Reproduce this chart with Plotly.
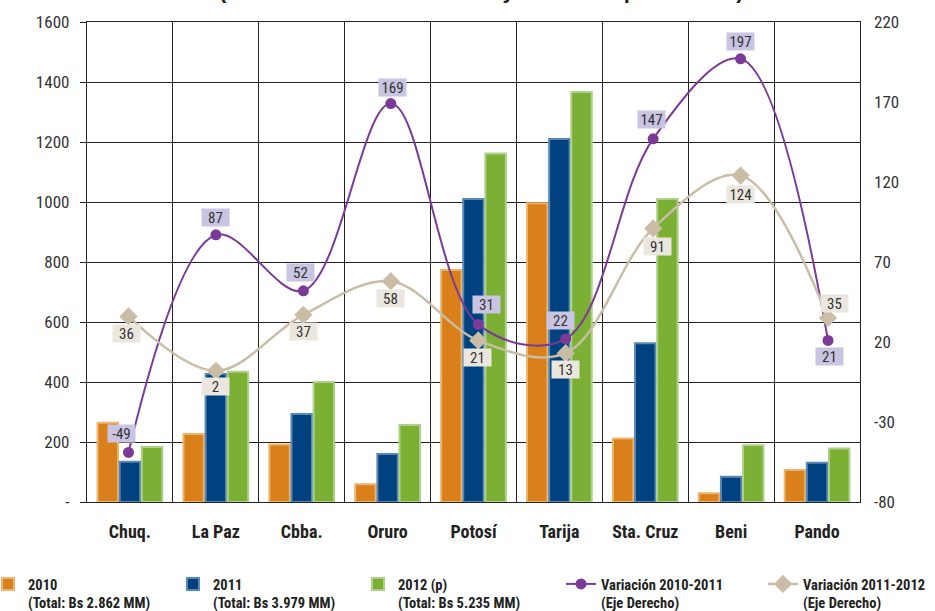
import plotly.graph_objects as go

# ---------------- data ----------------
categories = ["Chuq.", "La Paz", "Cbba.", "Oruro", "Potosí", "Tarija", "Sta. Cruz", "Beni", "Pando"]
val_2010 = [264, 227, 192, 59, 773, 996, 212, 29, 107]
val_2011 = [134, 427, 293, 160, 1010, 1210, 529, 84, 131]
val_2012 = [183, 434, 400, 257, 1162, 1367, 1010, 189, 178]
var_10_11 = [-49, 87, 52, 169, 31, 22, 147, 197, 21]
var_11_12 = [36, 2, 37, 58, 21, 13, 91, 124, 35]

left_tickvals = [0, 200, 400, 600, 800, 1000, 1200, 1400, 1600]
left_ticktext = ["-", "200", "400", "600", "800", "1000", "1200", "1400", "1600"]
right_tickvals = [-80, -30, 20, 70, 120, 170, 220]
right_ticktext = ["-80", "-30", "20", "70", "120", "170", "220"]

names = [
    "2010<br>(Total: Bs 2.862 MM)",
    "2011<br>(Total: Bs 3.979 MM)",
    "2012 (p)<br>(Total: Bs 5.235 MM)",
    "Variación 2010-2011<br>(Eje Derecho)",
    "Variación 2011-2012<br>(Eje Derecho)",
]
title_text = "(En millones de bolivianos y variación porcentual)"

# ---------------- style ----------------
NARROW = "Roboto Condensed, Roboto, Liberation Sans Narrow, sans-serif"
DARK = "#222222"
bar_fill = ["#D9801A", "#00427F", "#7CB035"]
bar_edge = ["#EDB46D", "#5B87B3", "#AED08A"]
purple = "#7B3A97"
tan = "#C9BDA5"
purple_box = "#C8C4E2"
tan_box = "#EBE7DF"

# label offsets (px) relative to markers
off_10_11 = [(-7, 19), (0, 17), (-3, 18), (2, 16), (8, 20), (-5, 18), (-2, 19), (0, 17), (1, -16)]
off_11_12 = [(-2, -17), (0, -16), (0, -17), (0, -17), (-1, -17), (0, -16), (4, -18), (0, -19), (6, 15)]

W, H = 935, 611
ML, MR, MT, MB = 87, 75, 22, 109
plot_w = W - ML - MR
plot_h = H - MT - MB

# line x-scale (secondary horizontal axis): first point at px 128.5, spacing 87.44 px
first_px, step_px = 128.5, 87.44
x2_range = [-(first_px - ML) / step_px, (W - MR - first_px) / step_px]
idx = list(range(len(categories)))

fig = go.Figure()
for i, (vals, nm) in enumerate(zip([val_2010, val_2011, val_2012], names[:3])):
    fig.add_trace(go.Bar(
        x=categories, y=vals, name=nm,
        marker=dict(color=bar_fill[i], line=dict(color=bar_edge[i], width=2)),
        legend="legend" if i == 0 else f"legend{i+1}",
        hoverinfo="x+y",
    ))

fig.add_trace(go.Scatter(
    x=idx, y=var_10_11, name=names[3], xaxis="x2", yaxis="y2",
    mode="lines+markers", line=dict(color=purple, width=2, shape="spline", smoothing=1.0),
    marker=dict(symbol="circle", size=11, color=purple),
    legend="legend4",
))
fig.add_trace(go.Scatter(
    x=idx, y=var_11_12, name=names[4], xaxis="x2", yaxis="y2",
    mode="lines+markers", line=dict(color=tan, width=2.5, shape="spline", smoothing=1.0),
    marker=dict(symbol="diamond", size=14, color=tan),
    legend="legend5",
))

annotations = []
for vals, offs, box in [(var_10_11, off_10_11, purple_box), (var_11_12, off_11_12, tan_box)]:
    for i, v in enumerate(vals):
        dx, dy = offs[i]
        annotations.append(dict(
            x=idx[i], y=v, xref="x2", yref="y2", text=str(v), showarrow=False,
            xshift=dx, yshift=dy, bgcolor=box, width=23, height=13, borderpad=2,
            font=dict(family=NARROW, size=15, color="#333333"),
        ))
# title, cropped by the top edge of the picture (as in the reference)
annotations.append(dict(
    x=(481 - ML) / plot_w, y=1 + (MT - 4) / plot_h, xref="paper", yref="paper",
    xanchor="center", yanchor="bottom", text="<b>" + title_text + "</b>", showarrow=False,
    borderpad=0, font=dict(family="Liberation Sans, Arial, sans-serif", size=22, color=DARK),
))

legend_text_px = [30, 215, 400, 603, 805]
legend_common = dict(
    orientation="h", yanchor="top", xanchor="left", y=-66 / plot_h,
    font=dict(family=NARROW, size=14.5, color=DARK, weight="bold"),
    bgcolor="rgba(0,0,0,0)", borderwidth=0, valign="top", itemwidth=30,
    tracegroupgap=0,
)
legends = {}
for k, px in enumerate(legend_text_px):
    key = "legend" if k == 0 else f"legend{k+1}"
    d = dict(legend_common)
    d["x"] = (px - 42 - ML) / plot_w
    legends[key] = d

fig.update_layout(
    width=W, height=H,
    margin=dict(l=ML, r=MR, t=MT, b=MB, pad=0, autoexpand=False),
    plot_bgcolor="white", paper_bgcolor="white",
    barmode="group", bargap=0.227, bargroupgap=0.075,
    showlegend=True,
    annotations=annotations,
    font=dict(family=NARROW, color=DARK),
    xaxis=dict(
        type="category", tickson="boundaries", showgrid=True, gridcolor=DARK, gridwidth=1.3,
        ticks="", showline=True, linecolor=DARK, linewidth=1.3, mirror=True,
        tickfont=dict(family=NARROW, size=18, color=DARK, weight="bold"), tickangle=0,
        ticklabelstandoff=13, zeroline=False, automargin=False,
    ),
    xaxis2=dict(overlaying="x", range=x2_range, visible=False, anchor="y2"),
    yaxis=dict(
        range=[0, 1600], tickvals=left_tickvals, ticktext=left_ticktext,
        showgrid=True, gridcolor=DARK, gridwidth=1.3, zeroline=False,
        ticks="outside", ticklen=6, tickcolor=DARK, tickwidth=1.3,
        showline=True, linecolor=DARK, linewidth=1.3, mirror=True,
        tickfont=dict(family=NARROW, size=17, color="#333333"), ticklabelstandoff=7,
        automargin=False,
    ),
    yaxis2=dict(
        overlaying="y", side="right", anchor="x", range=[-80, 220],
        tickvals=right_tickvals, ticktext=right_ticktext,
        showgrid=False, zeroline=False, ticks="", showline=False,
        tickfont=dict(family=NARROW, size=17, color="#333333"), ticklabelstandoff=13,
        automargin=False,
    ),
    hovermode="closest",
    **legends,
)

fig.write_html("out.html", config={"displayModeBar": False},
               post_script="document.body.style.margin='0';")
